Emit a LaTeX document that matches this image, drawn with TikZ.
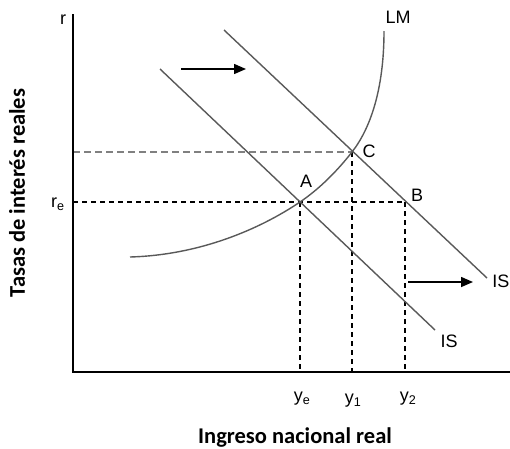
\documentclass[tikz,border=0pt]{standalone}
\usepackage{fontspec}
\setmainfont{Liberation Sans}
\newfontfamily\titlefont{Carlito}
\usetikzlibrary{positioning, arrows.meta}

\begin{document}
\begin{tikzpicture}[
		x=1pt, y=-1pt,
		axis/.style={line width=1.5pt, black},
		curve/.style={line width=1.4pt, color=black!65},
		guide/.style={line width=1.1pt, black, dash pattern=on 5pt off 4pt},
		guidegray/.style={line width=2.4pt, color=black!50, dash pattern=on 7pt off 4pt},
		shiftarrow/.style={-{Triangle[length=12pt, width=10pt]}, line width=1.5pt},
		lbl/.style={font=\fontsize{18}{20}\selectfont, inner sep=0pt},
		title/.style={font=\titlefont\bfseries\fontsize{22.5}{24}\selectfont, inner sep=0pt}
		]
		\useasboundingbox (0,0) rectangle (510,448);
		
		% ==========================================
		% KEY POINTS
		% ==========================================
		\coordinate (origin) at (73,372);
		\coordinate (ytop) at (73,14);
		\coordinate (xend) at (510,372);
		\coordinate (A) at (300,202);
		\coordinate (C) at (352,152);
		\coordinate (B) at (405,202);
		
		% ==========================================
		% GUIDE LINES
		% ==========================================
		\draw[guidegray] (C -| origin) -- (C);
		\draw[guide] (A -| origin) -- (B);
		\draw[guide] (A) -- (A |- origin);
		\draw[guide] (C) -- (C |- origin);
		\draw[guide] (B) -- (B |- origin);
		
		% ==========================================
		% AXES
		% ==========================================
		\draw[axis] (ytop) -- (origin) -- (xend);
		
		% ==========================================
		% CURVES
		% ==========================================
		\coordinate (is0_s) at (160,69);
		\coordinate (is0_e) at (435,330);
		\coordinate (is1_s) at (224,30);
		\coordinate (is1_e) at (487,278);
		\coordinate (lm_s) at (130,257);
		\coordinate (lm_e) at (384,31);
		\draw[curve] (is0_s) -- (is0_e);
		\draw[curve] (is1_s) -- (is1_e);
		\draw[curve] (lm_s) .. controls (200,255) and (260,229) .. (A)
			.. controls (320,188.5) and (338,170) .. (C)
			.. controls (370,129) and (384,90) .. (lm_e);
		
		% Shift arrows
		\coordinate (sh1_s) at (181,69);
		\coordinate (sh1_e) at (246,69);
		\coordinate (sh2_s) at (408,282);
		\coordinate (sh2_e) at (473,282);
		\draw[shiftarrow] (sh1_s) -- (sh1_e);
		\draw[shiftarrow] (sh2_s) -- (sh2_e);
		
		% ==========================================
		% LABELS
		% ==========================================
		\node[lbl] (lbl_r) at (63,20) {r};
		\node[lbl] (lbl_re) at (58,204) {r\textsubscript{e}};
		\node[lbl] (lbl_lm) at (398,17) {LM};
		\node[lbl] (lbl_a) at (306,181) {A};
		\node[lbl] (lbl_c) at (369,151) {C};
		\node[lbl] (lbl_b) at (417,195) {B};
		\node[lbl] (lbl_is0) at (449,341) {IS};
		\node[lbl, anchor=east] (lbl_is1) at (509.5,281) {IS};
		\node[lbl] (lbl_ye) at (302,399) {y\textsubscript{e}};
		\node[lbl] (lbl_y1) at (353,401) {y\textsubscript{1}};
		\node[lbl] (lbl_y2) at (408,399) {y\textsubscript{2}};
		
		\node[title] (x_title) at (295,437) {Ingreso nacional real};
		\node[title, rotate=90] (y_title) at (17,193) {Tasas de interés reales};
		
	\end{tikzpicture}
\end{document}
